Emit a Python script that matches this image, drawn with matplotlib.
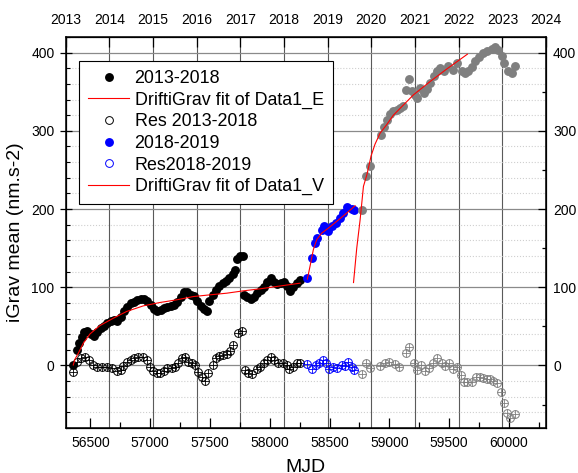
import matplotlib
matplotlib.use("Agg")
import matplotlib.pyplot as plt
from matplotlib.ticker import MultipleLocator

plt.rcParams['font.family'] = ['Liberation Sans', 'DejaVu Sans']

# 2013-2018 (black)
mjd_a = [56357, 56385, 56407, 56427, 56446, 56474, 56502, 56530, 56558, 56586,
         56614, 56642, 56670, 56697, 56725, 56753, 56781, 56809, 56837, 56865,
         56893, 56920, 56948, 56976, 57004, 57032, 57060, 57088, 57116, 57143,
         57171, 57199, 57227, 57255, 57283, 57311, 57339, 57366, 57394, 57422,
         57450, 57472, 57495, 57523, 57550, 57578, 57606, 57634, 57662, 57690,
         57707, 57723, 57751, 57774, 57785, 57813, 57840, 57868, 57896, 57924,
         57952, 57980, 58008, 58036, 58063, 58091, 58119, 58147, 58169, 58197,
         58225, 58253]
val_a = [0.6, 19.9, 29.2, 36.9, 43.3, 44.6, 40.3, 37.8, 43.3, 47.6,
         51.0, 54.0, 56.6, 58.3, 56.6, 61.7, 69.8, 75.3, 79.6, 81.7,
         83.9, 85.6, 84.7, 83.0, 77.5, 71.9, 69.0, 71.1, 73.6, 75.3,
         76.2, 77.9, 80.5, 88.1, 94.5, 94.1, 90.7, 89.4, 83.0, 76.2,
         71.9, 69.0, 82.2, 90.3, 96.7, 101.8, 105.2, 108.6, 111.6, 117.2,
         122.3, 135.9, 139.4, 140.2, 90.3, 86.9, 85.2, 88.1, 92.4, 96.7,
         100.1, 106.1, 111.6, 107.3, 104.4, 105.2, 106.1, 101.0, 95.8, 100.1,
         105.2, 109.5]

fitE_mjd = [56357, 56371, 56399, 56441, 56497, 56580, 56692, 56803, 56943,
            57082, 57221, 57361, 57500, 57640, 57779, 57919, 58058, 58253]
fitE_val = [0.6, 7.9, 15.6, 28.4, 40.3, 51.0, 60.4, 69.0, 76.2,
            80.5, 83.9, 88.1, 90.3, 92.4, 95.4, 98.0, 101.0, 105.2]

resA_mjd = [56357, 56391, 56419, 56455, 56491, 56525, 56558, 56594, 56636, 56678,
            56720, 56753, 56775, 56803, 56837, 56865, 56901, 56937, 56971, 56998,
            57026, 57054, 57082, 57116, 57143, 57180, 57208, 57235, 57263, 57291,
            57319, 57347, 57375, 57403, 57431, 57459, 57486, 57523, 57550, 57578,
            57612, 57640, 57668, 57695, 57732, 57765, 57793, 57821, 57854, 57891,
            57918, 57952, 57980, 58008, 58036, 58072, 58108, 58141, 58164, 58197,
            58231, 58253]
resA_val = [-7.9, 4.9, 9.2, 10.5, 7.0, 0.6, -2.3, -1.5, -1.5, -3.6,
            -6.6, -5.8, -0.6, 4.1, 7.0, 10.0, 10.5, 10.5, 7.0, -1.5,
            -6.6, -9.2, -9.2, -6.6, -3.6, -3.6, -2.3, 2.8, 9.2, 10.5,
            4.9, 2.8, 0.6, -8.7, -14.3, -19.4, -9.2, 0.6, 9.2, 12.2,
            13.4, 14.7, 19.0, 26.3, 41.2, 44.6, -5.8, -10.0, -10.9, -4.9,
            -1.5, 2.8, 7.0, 11.2, 7.0, 2.8, 2.8, 0.6, -4.9, -1.5,
            2.8, 3.6]

# 2018-2019 (blue)
mjd_b = [58314, 58350, 58378, 58398, 58434, 58454, 58490, 58518, 58554, 58587,
         58615, 58649, 58685, 58704]
val_b = [111.6, 137.2, 156.4, 162.8, 173.5, 177.7, 171.3, 177.7, 182.0, 188.4,
         194.8, 202.5, 199.9, 199.1]

fitV_mjd = [58314, 58336, 58364, 58392, 58434, 58490, 58559, 58643, 58713]
fitV_val = [110.3, 126.5, 147.9, 160.7, 169.2, 175.6, 184.2, 194.8, 204.2]

resB_mjd = [58314, 58350, 58387, 58415, 58442, 58470, 58498, 58526, 58565, 58601,
            58629, 58657, 58685, 58704]
resB_val = [1.5, -5.0, 0.6, 3.6, 7.0, 2.8, -5.0, -1.5, -3.6, 0.6,
            -0.6, 5.0, -1.5, -5.8]

# 2019-2023 (grey)
mjd_c = [58774, 58805, 58838, 58928, 58955, 58983, 59005, 59033, 59061, 59089,
         59117, 59139, 59167, 59187, 59215, 59234, 59256, 59290, 59312, 59340,
         59373, 59401, 59424, 59457, 59493, 59530, 59563, 59605, 59633, 59661,
         59689, 59716, 59753, 59786, 59820, 59856, 59884, 59912, 59939, 59959,
         59995, 60023, 60051]
val_c = [199, 242, 255, 295, 305, 314, 322, 325, 327, 329,
         332, 352, 366, 351, 346, 342, 355, 348, 353, 361,
         370, 376, 380, 376, 383, 378, 387, 376, 374, 377,
         382, 389, 395, 399, 402, 405, 407, 403, 396, 387,
         376, 374, 383]

fitC_mjd = [58700, 58727, 58755, 58783, 58812, 58847, 58880, 58922, 58978,
            59033, 59117, 59201, 59340, 59479, 59652]
fitC_val = [106, 150, 186, 229, 244, 268, 283, 297, 308,
            320, 333, 346, 363, 379, 398]

resC_mjd = [58769, 58805, 58838, 58922, 58964, 59000, 59047, 59084, 59139, 59167,
            59206, 59234, 59262, 59298, 59335, 59368, 59401, 59438, 59465, 59502,
            59530, 59563, 59597, 59624, 59652, 59688, 59725, 59758, 59786, 59814,
            59842, 59870, 59903, 59931, 59959, 59987, 60009, 60051]
resC_val = [-11.3, 3.6, -3.6, -0.6, 2.8, 4.9, 2.0, -1.5, 15.6, 24.1,
            3.6, -5.8, 0.6, -6.6, -3.6, 2.8, 9.2, 2.8, -0.6, 2.8,
            -4.9, -1.5, -12.2, -20.7, -20.7, -20.7, -15.1, -15.1, -16.4, -17.7,
            -17.7, -19.4, -22.8, -33.5, -47.6, -61.2, -67.6, -62.0]

# top axis: 1 January of each year, in MJD
year_mjd = [56293, 56658, 57023, 57388, 57754, 58119, 58484, 58849, 59215, 59580, 59945, 60310]
year_lab = ['2013', '2014', '2015', '2016', '2017', '2018', '2019', '2020', '2021', '2022', '2023', '2024']

fig = plt.figure(figsize=(5.78, 4.73), dpi=100)
ax = fig.add_axes([0.1135, 0.0951, 0.8313, 0.8267])
ax.set_xlim(56293, 60310)
ax.set_ylim(-80, 420)

# grid
ax.set_axisbelow(True)
ax.yaxis.set_major_locator(MultipleLocator(100))
ax.yaxis.set_minor_locator(MultipleLocator(20))
ax.xaxis.set_major_locator(MultipleLocator(500))
ax.xaxis.set_minor_locator(MultipleLocator(250))
ax.yaxis.grid(True, which='major', color='#8a8a8a', lw=0.9)
ax.yaxis.grid(True, which='minor', color='#cfcfcf', ls=':', lw=0.8)
for m in year_mjd[1:-1]:
    ax.axvline(m, color='#5a5a5a', lw=0.8, zorder=0.5)

ms = 6.4
rs = 5.6
h1, = ax.plot(mjd_a, val_a, 'o', color='black', ms=ms, mew=0, label='2013-2018', zorder=3)
h2, = ax.plot(fitE_mjd, fitE_val, '-', color='red', lw=0.8, label='DriftiGrav fit of Data1_E', zorder=5)
h3, = ax.plot(resA_mjd, resA_val, 'o', mfc='none', mec='black', ms=rs, mew=0.7,
              label='Res 2013-2018', zorder=3)
ax.plot(resA_mjd, resA_val, '+', color='black', ms=rs, mew=0.6, zorder=3)
h4, = ax.plot(mjd_b, val_b, 'o', color='blue', ms=ms, mew=0, label='2018-2019', zorder=3)
h5, = ax.plot(resB_mjd, resB_val, 'o', mfc='none', mec='blue', ms=rs, mew=0.7,
              label='Res2018-2019', zorder=3)
ax.plot(resB_mjd, resB_val, '+', color='blue', ms=rs, mew=0.6, zorder=3)
h6, = ax.plot(fitV_mjd, fitV_val, '-', color='red', lw=0.8, label='DriftiGrav fit of Data1_V', zorder=5)

ax.plot(mjd_c, val_c, 'o', color='#7f7f7f', ms=ms, mew=0, zorder=3)
ax.plot(resC_mjd, resC_val, 'o', mfc='none', mec='#7f7f7f', ms=rs, mew=0.7, zorder=3)
ax.plot(resC_mjd, resC_val, '+', color='#7f7f7f', ms=rs, mew=0.6, zorder=3)
ax.plot(fitC_mjd, fitC_val, '-', color='red', lw=0.8, zorder=5)

ax.tick_params(axis='x', which='major', direction='in', length=7, width=0.9, labelsize=10, pad=6)
ax.tick_params(axis='x', which='minor', direction='in', length=4, width=0.9)
ax.tick_params(axis='y', which='major', direction='inout', length=9, width=0.9, labelsize=10)
ax.tick_params(axis='y', which='minor', direction='in', length=3, width=0.8)
ax.set_xlabel('MJD', fontsize=14, labelpad=6)
ax.set_ylabel('iGrav mean (nm.s-2)', fontsize=14, labelpad=5)
for s in ax.spines.values():
    s.set_linewidth(1.1)

leg = ax.legend(handles=[h1, h2, h3, h4, h5, h6], loc='upper left',
                bbox_to_anchor=(0.028, 0.939), borderaxespad=0, fontsize=12.9,
                fancybox=False, edgecolor='black', framealpha=1,
                handlelength=2.3, handletextpad=0.3, labelspacing=0.26, borderpad=0.5)
leg.get_frame().set_linewidth(0.8)

# right axis
axr = ax.twinx()
axr.set_ylim(-80, 420)
axr.yaxis.set_major_locator(MultipleLocator(100))
axr.yaxis.set_minor_locator(MultipleLocator(50))
axr.tick_params(axis='y', which='major', direction='in', length=6, width=0.9, labelsize=10, pad=5)
axr.tick_params(axis='y', which='minor', direction='in', length=3, width=0.9)

# top axis with years
axt = ax.twiny()
axt.set_xlim(56293, 60310)
axt.set_xticks(year_mjd)
axt.set_xticklabels(year_lab)
axt.tick_params(axis='x', which='major', direction='in', length=7, width=0.9, labelsize=10, pad=7)

fig.savefig('out.png', dpi=100)
